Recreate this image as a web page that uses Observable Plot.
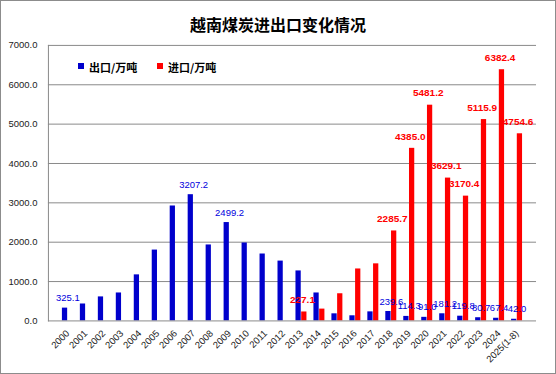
<!DOCTYPE html>
<html><head><meta charset="utf-8">
<script src="https://cdn.jsdelivr.net/npm/d3@7"></script>
<script src="https://cdn.jsdelivr.net/npm/@observablehq/plot@0.6"></script>
<style>
html,body{margin:0;padding:0;background:#fff;}
#chart{position:relative;width:556px;height:374px;box-sizing:border-box;border:1px solid #8c8c8c;overflow:hidden;background:#fff;}
#title{position:absolute;left:-1px;top:12px;width:556px;text-align:center;font:bold 16px/22px "Noto Sans CJK SC",sans-serif;color:#000;}
.sw{position:absolute;width:6px;height:6px;top:62px;}
.lt{position:absolute;top:57px;font:bold 11px/18px "Noto Sans CJK SC",sans-serif;color:#000;}
#plot{position:absolute;left:-1px;top:-1px;}
</style>
</head><body>
<div id="chart">
  <div id="plot"></div>
  <div id="title">越南煤炭进出口变化情况</div>
  <div class="sw" style="left:77px;background:#0000cc"></div>
  <div class="lt" style="left:88px">出口/万吨</div>
  <div class="sw" style="left:156px;background:#ff0000"></div>
  <div class="lt" style="left:167px">进口/万吨</div>
</div>
<script>
const years = ["2000","2001","2002","2003","2004","2005","2006","2007","2008","2009","2010","2011","2012","2013","2014","2015","2016","2017","2018","2019","2020","2021","2022","2023","2024","2025(1-8)"];
const exportsT = [325.1,430,610,710,1170,1800,2920,3207.2,1930,2499.2,1980,1700,1520,1270,710,180,130,230,239.6,114.3,91.0,181.2,119.8,80.7,67.4,42.0];
const importsT = [null,null,null,null,null,null,null,null,null,null,null,null,null,227.1,300,690,1320,1450,2285.7,4385.0,5481.2,3629.1,3170.4,5115.9,6382.4,4754.6];
const exportLabelYears = ["2000","2007","2009","2018","2019","2020","2021","2022","2023","2024","2025(1-8)"];
const importLabelYears = ["2013","2018","2019","2020","2021","2022","2023","2024","2025(1-8)"];
const yTicks = [0,1000,2000,3000,4000,5000,6000,7000];
const seriesNames = ["出口/万吨","进口/万吨"];

const W = 556, H = 374, mL = 48, mR = 19, mT = 45, mB = 53;
const padInner = 0.39;
const step = (W - mL - mR) / years.length;
const bw = step * (1 - padInner);

const data = years.map((y, i) => ({year: y, exp: exportsT[i], imp: importsT[i]}));
const expLab = data.filter(d => exportLabelYears.includes(d.year));
const impLab = data.filter(d => importLabelYears.includes(d.year));

const chart = Plot.plot({
  width: W, height: H,
  marginLeft: mL, marginRight: mR, marginTop: mT, marginBottom: mB,
  style: {fontFamily: "Liberation Sans, sans-serif", fontSize: "9.5px", background: "transparent", overflow: "visible"},
  x: {domain: years, paddingInner: padInner, paddingOuter: padInner / 2, label: null},
  y: {domain: [0, 7000], label: null},
  marks: [
    Plot.ruleY(yTicks.filter(d => d > 0), {stroke: "#8a8a8a", strokeWidth: 1}),
    Plot.barY(data, {x: "year", y: "exp", fill: "#0000cc", insetRight: bw / 2, insetLeft: 0}),
    Plot.barY(data.filter(d => d.imp != null), {x: "year", y: "imp", fill: "#ff0000", insetLeft: bw / 2, insetRight: 0}),
    Plot.ruleY([0], {stroke: "#8a8a8a", strokeWidth: 1}),
    Plot.frame({anchor: "left", stroke: "#8a8a8a"}),
    Plot.axisY(yTicks, {tickSize: 0, tickPadding: 11, tickFormat: d => d.toFixed(1), fill: "#222", fontSize: 9.5, label: null}),
    Plot.axisX({tickSize: 0, tickRotate: -45, tickPadding: 11, fill: "#222", fontSize: 9.5, label: null}),
    Plot.text(expLab, {x: "year", y: "exp", text: d => d.exp.toFixed(1), dy: -10, fill: "#0000dd", fontSize: 9.5}),
    Plot.text(impLab, {x: "year", y: "imp", text: d => d.imp.toFixed(1), dy: -12, dx: 1, fill: "#ff0000", fontSize: 10, fontWeight: "bold"})
  ]
});
document.getElementById("plot").appendChild(chart);
</script>
</body></html>
